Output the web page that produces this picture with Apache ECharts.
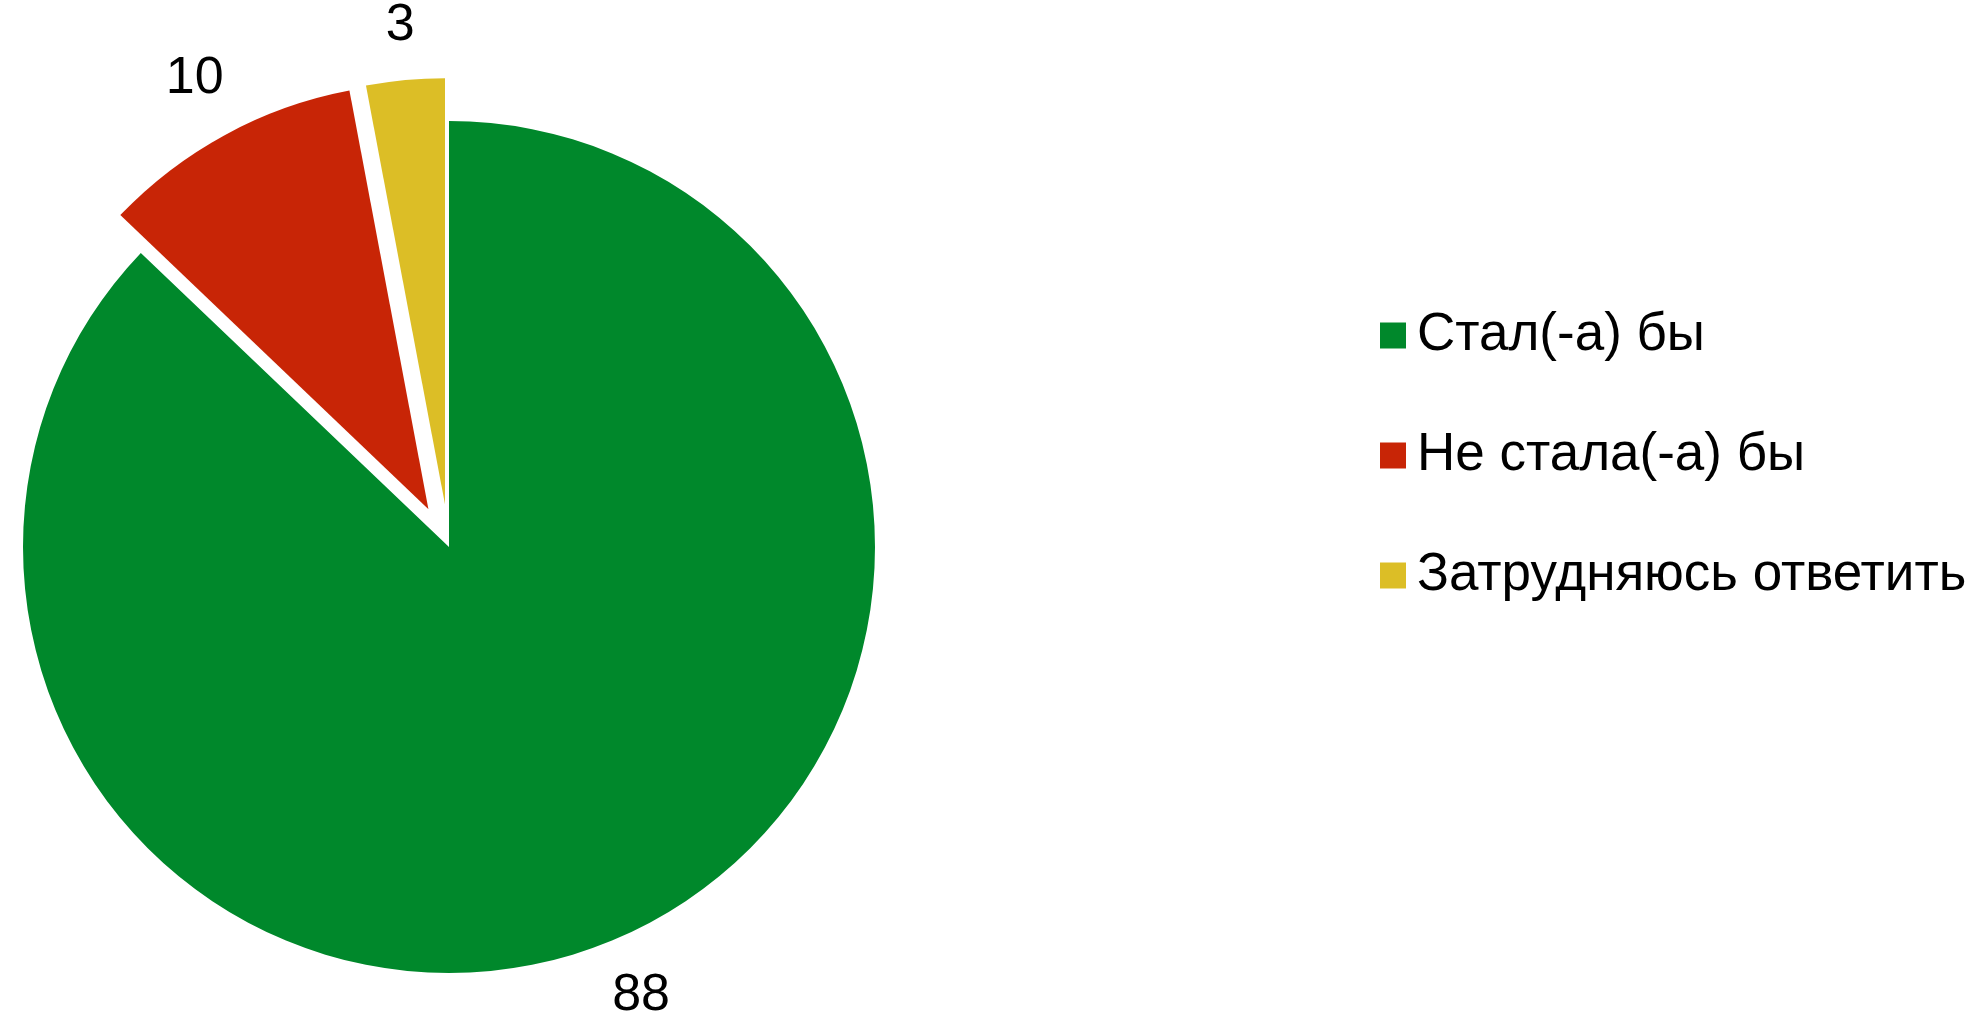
<!DOCTYPE html>
<html>
<head>
<meta charset="utf-8">
<script src="https://cdn.jsdelivr.net/npm/echarts@6/dist/echarts.min.js"></script>
<style>
html,body{margin:0;padding:0;background:#fff;}
#chart{width:1981px;height:1018px;}
</style>
</head>
<body>
<div id="chart"></div>
<script>
const categories = ['Стал(-а) бы', 'Не стала(-а) бы', 'Затрудняюсь ответить'];
const values = [88, 10, 3];
const colors = ['#00882b', '#c82506', '#dcbe26'];
const exploded = [false, true, true];

const CENTER = [449, 547];
const RADIUS = 426;
const OFFSET = 43;
const LABEL_GAP = 27;

const chart = echarts.init(document.getElementById('chart'));
const FONT = '"Liberation Sans", Arial, sans-serif';

const total = values.reduce((a, b) => a + b, 0);
function midDir(i) {
  let before = 0;
  for (let k = 0; k < i; k++) before += values[k];
  const midDeg = (before + values[i] / 2) / total * 360;
  const a = midDeg * Math.PI / 180;
  return [Math.sin(a), -Math.cos(a)];
}

// One pie layer per slice: the exploded slices get their own, shifted centre
// along the slice's mid-angle; the other slices of the layer are transparent.
const series = categories.map((name, i) => {
  const d = midDir(i);
  const off = exploded[i] ? OFFSET : 0;
  const c = [CENTER[0] + d[0] * off, CENTER[1] + d[1] * off];
  return {
    type: 'pie',
    center: c,
    radius: RADIUS,
    startAngle: 90,
    clockwise: true,
    silent: true,
    legendHoverLink: false,
    avoidLabelOverlap: false,
    emphasis: { disabled: true, scale: false },
    itemStyle: { borderWidth: 0 },
    label: {
      show: true,
      position: 'outside',
      formatter: '{c}',
      fontFamily: FONT,
      fontSize: 52,
      lineHeight: 52,
      color: '#000'
    },
    labelLine: { show: false },
    labelLayout: function (p) {
      const w = p.labelRect.width, h = p.labelRect.height;
      const ext = Math.abs(d[0]) * w / 2 + Math.abs(d[1]) * h / 2;
      const dist = RADIUS + LABEL_GAP + ext;
      return {
        x: c[0] + d[0] * dist,
        y: c[1] + d[1] * dist,
        align: 'center',
        verticalAlign: 'middle'
      };
    },
    data: categories.map((n, k) => ({
      name: n,
      value: values[k],
      itemStyle: { color: k === i ? colors[k] : 'rgba(0,0,0,0)' },
      label: { show: k === i }
    }))
  };
});

chart.setOption({
  animation: false,
  backgroundColor: '#ffffff',
  legend: {
    orient: 'vertical',
    left: 1375,
    top: 304,
    itemWidth: 26,
    itemHeight: 26,
    itemGap: 67,
    icon: 'rect',
    selectedMode: false,
    data: categories.map((n, i) => ({ name: n, itemStyle: { color: colors[i], opacity: 1 } })),
    textStyle: {
      fontFamily: FONT,
      fontSize: 53,
      color: '#000',
      lineHeight: 53,
      padding: [0, 0, 0, 6]
    }
  },
  series: series
});
</script>
</body>
</html>
